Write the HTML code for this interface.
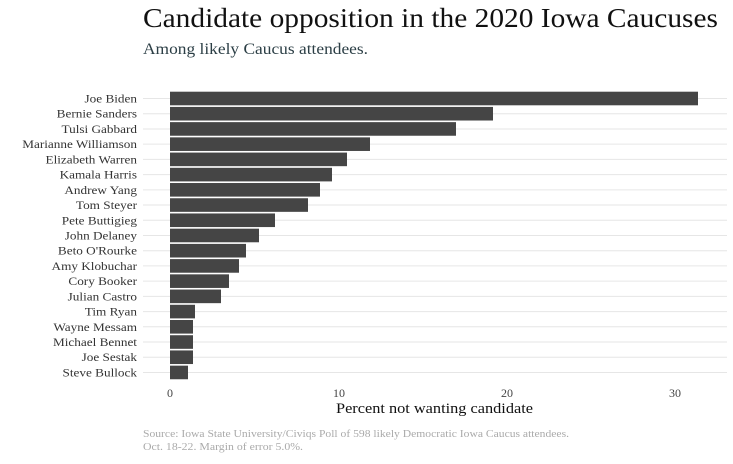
<!DOCTYPE html>
<html><head><meta charset="utf-8"><style>
body{margin:0;background:#fff;width:733px;height:459px;overflow:hidden;font-family:"Liberation Serif","DejaVu Serif",serif;}
</style></head><body>
<svg width="733" height="459" xmlns="http://www.w3.org/2000/svg" font-family="Liberation Serif, DejaVu Serif, serif">
<text x="143" y="27" font-size="27" fill="#111" textLength="575" lengthAdjust="spacingAndGlyphs">Candidate opposition in the 2020 Iowa Caucuses</text>
<text x="143" y="54" font-size="16" fill="#2b3e45" textLength="225" lengthAdjust="spacingAndGlyphs">Among likely Caucus attendees.</text>
<g id="rows"></g>
<g font-size="12" fill="#444" text-anchor="middle">
<text x="170" y="397">0</text><text x="339" y="397">10</text><text x="507" y="397">20</text><text x="675" y="397">30</text>
</g>
<text x="336" y="413" font-size="15" fill="#111" textLength="197" lengthAdjust="spacingAndGlyphs">Percent not wanting candidate</text>
<text x="143" y="437" font-size="10" fill="#aaa" textLength="426" lengthAdjust="spacingAndGlyphs">Source: Iowa State University/Civiqs Poll of 598 likely Democratic Iowa Caucus attendees.</text>
<text x="143" y="450" font-size="10" fill="#aaa" textLength="160" lengthAdjust="spacingAndGlyphs">Oct. 18-22.  Margin of error 5.0%.</text>
</svg>
<script>
var d=[["Joe Biden",698],["Bernie Sanders",493],["Tulsi Gabbard",456],["Marianne Williamson",370],["Elizabeth Warren",347],["Kamala Harris",332],["Andrew Yang",320],["Tom Steyer",308],["Pete Buttigieg",275],["John Delaney",259],["Beto O'Rourke",246],["Amy Klobuchar",239],["Cory Booker",229],["Julian Castro",221],["Tim Ryan",195],["Wayne Messam",193],["Michael Bennet",193],["Joe Sestak",193],["Steve Bullock",188]];
var s="";d.forEach(function(r,i){var c=98.5+i*15.22;
s+='<line x1="143" x2="727" y1="'+c+'" y2="'+c+'" stroke="#e6e6e6" stroke-width="1"/>';
s+='<rect x="170" y="'+(c-6.8)+'" width="'+(r[1]-170)+'" height="13.6" fill="#454545"/>';
s+='<text x="137" y="'+(c+4)+'" font-size="11.5" text-anchor="end" fill="#333" transform="translate(137 0) scale(1.15 1) translate(-137 0)">'+r[0].replace("'","&#39;")+'</text>';});
document.getElementById("rows").innerHTML=s;
</script>
</body></html>
